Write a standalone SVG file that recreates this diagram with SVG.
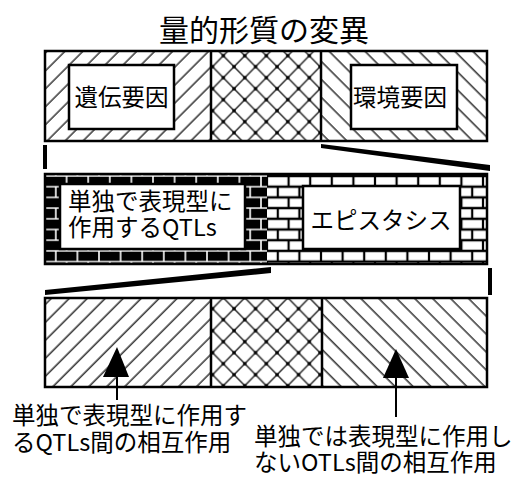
<svg xmlns="http://www.w3.org/2000/svg" width="520" height="477" viewBox="0 0 520 477">
<style>
text{font-family:"Noto Sans CJK JP","Noto Sans",sans-serif;fill:#000}
.lbl{font-size:23.5px}
.frame{fill:none;stroke:#000;stroke-width:2.5}
.box{fill:#fff;stroke:#000;stroke-width:2.5}
.div{stroke:#000;stroke-width:2.5}
.hl{stroke:#222;stroke-width:1.4}
</style>
<defs>
<pattern id="fwd" width="12.7" height="12.7" patternUnits="userSpaceOnUse" patternTransform="rotate(45)">
<rect width="12.7" height="12.7" fill="#fff"/>
<line class="hl" x1="6" y1="0" x2="6" y2="12.7"/>
</pattern>
<pattern id="back" width="12.7" height="12.7" patternUnits="userSpaceOnUse" patternTransform="rotate(-45)">
<rect width="12.7" height="12.7" fill="#fff"/>
<line class="hl" x1="6" y1="0" x2="6" y2="12.7"/>
</pattern>
<pattern id="diamond" x="223.3" y="55.7" width="21.5" height="22" patternUnits="userSpaceOnUse">
<rect width="21.5" height="22" fill="#fff"/>
<path d="M0,0L21.5,22M21.5,0L0,22" stroke="#222" stroke-width="1.4"/>
<rect x="-1.6" y="-1.6" width="3.2" height="3.2"/>
<rect x="19.9" y="-1.6" width="3.2" height="3.2"/>
<rect x="-1.6" y="20.4" width="3.2" height="3.2"/>
<rect x="19.9" y="20.4" width="3.2" height="3.2"/>
<rect x="9.15" y="9.4" width="3.2" height="3.2"/>
</pattern>
<pattern id="brickW" x="267" y="176" width="21.6" height="21.4" patternUnits="userSpaceOnUse">
<rect width="21.6" height="21.4" fill="#fff"/>
<path d="M0,0H21.6M0,10.7H21.6M0,21.4H21.6M0,0V10.7M21.6,0V10.7M10.8,10.7V21.4" stroke="#000" stroke-width="2.2"/>
</pattern>
<pattern id="brickB" x="45" y="176" width="21.6" height="21.4" patternUnits="userSpaceOnUse">
<rect width="21.6" height="21.4" fill="#000"/>
<path d="M0,0H21.6M0,10.7H21.6M0,21.4H21.6M0,0V10.7M21.6,0V10.7M10.8,10.7V21.4" stroke="#fff" stroke-width="1.6"/>
</pattern>
</defs>

<text x="264" y="41" font-size="30" text-anchor="middle">量的形質の変異</text>

<g id="top-bar">
<rect x="45" y="51" width="166" height="90" fill="url(#fwd)"/>
<rect x="211" y="51" width="110" height="90" fill="url(#diamond)"/>
<rect x="321" y="51" width="166" height="90" fill="url(#back)"/>
<line class="div" x1="211" y1="51" x2="211" y2="141"/>
<line class="div" x1="321" y1="51" x2="321" y2="141"/>
<rect class="frame" x="45" y="51" width="442" height="90"/>
</g>
<g id="genetic">
<rect class="box" x="69" y="65" width="105" height="64"/>
<text class="lbl" x="121.5" y="106" text-anchor="middle" font-size="23">遺伝要因</text>
</g>
<g id="environment">
<rect class="box" x="351" y="65" width="106" height="64"/>
<text class="lbl" x="400" y="106" text-anchor="middle" font-size="23">環境要因</text>
</g>

<g id="middle-bar">
<rect x="45" y="174" width="222" height="90" fill="url(#brickB)"/>
<rect x="267" y="174" width="220" height="90" fill="url(#brickW)"/>
<rect class="frame" x="45" y="174" width="442" height="90" stroke-width="3"/>
</g>
<g id="single-qtl">
<rect class="box" x="60" y="184" width="185" height="65"/>
<text class="lbl"><tspan x="68" y="210">単独で表現型に</tspan><tspan x="68" y="236">作用するQTLs</tspan></text>
</g>
<g id="epistasis">
<rect class="box" x="303" y="186" width="157" height="63"/>
<text class="lbl" x="381" y="229" text-anchor="middle">エピスタシス</text>
</g>

<g id="bottom-bar">
<rect x="45" y="298" width="166" height="89" fill="url(#fwd)"/>
<rect x="211" y="298" width="111" height="89" fill="url(#diamond)"/>
<rect x="322" y="298" width="165" height="89" fill="url(#back)"/>
<line class="div" x1="211" y1="298" x2="211" y2="387"/>
<line class="div" x1="322" y1="298" x2="322" y2="387"/>
<rect class="frame" x="45" y="298" width="442" height="89"/>
</g>

<g id="connectors">
<rect x="43" y="145" width="4" height="24"/>
<polygon points="321,144 321,148 490,171 490,165"/>
<polygon points="271,267 271,273 45,295 45,290"/>
<rect x="488" y="268" width="4" height="27"/>
<line x1="117" y1="375" x2="117" y2="400" stroke="#000" stroke-width="2"/>
<polygon points="117,347 129,377 103,377"/>
<line x1="396" y1="375" x2="396" y2="417" stroke="#000" stroke-width="2"/>
<polygon points="396,349 409,378 383,378"/>
</g>

<g id="label-left">
<text class="lbl"><tspan x="12" y="424">単独で表現型に作用す</tspan><tspan x="12" y="451">るQTLs間の相互作用</tspan></text>
</g>
<g id="label-right">
<text class="lbl"><tspan x="254" y="445">単独では表現型に作用し</tspan><tspan x="254" y="471">ないOTLs間の相互作用</tspan></text>
</g>
</svg>
